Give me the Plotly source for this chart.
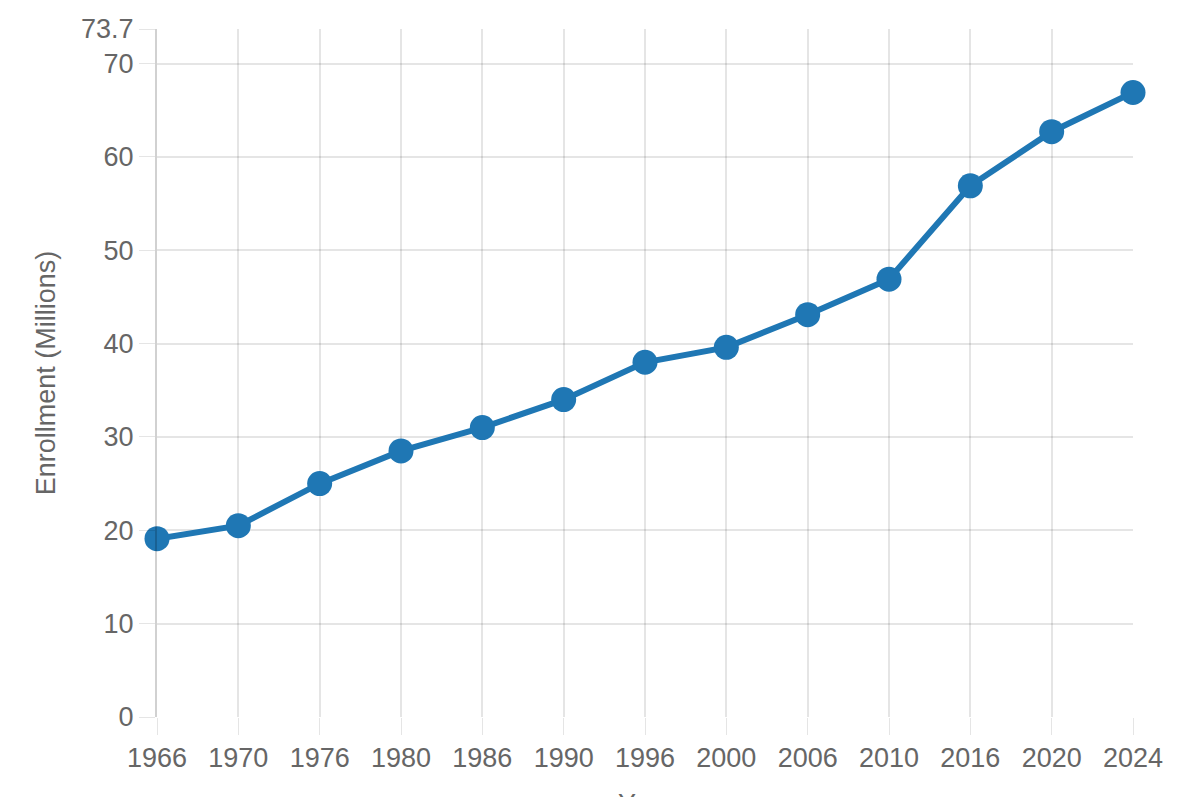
import plotly.graph_objects as go

# enrollment by year
years = ["1966", "1970", "1976", "1980", "1986", "1990", "1996",
         "2000", "2006", "2010", "2016", "2020", "2024"]
enrollment = [19.1, 20.5, 25.0, 28.5, 31.0, 34.0, 38.0,
              39.6, 43.1, 46.9, 56.9, 62.7, 66.9]

y_max = 73.7
y_ticks = [0, 10, 20, 30, 40, 50, 60, 70, y_max]
y_tick_text = ["0", "10", "20", "30", "40", "50", "60", "70", "73.7"]

blue = "#1f77b4"
grey = "#666666"
grid = "rgba(0,0,0,0.1)"

fig = go.Figure()
fig.add_trace(go.Scatter(
    x=years,
    y=enrollment,
    mode="lines+markers",
    line=dict(color=blue, width=6),
    marker=dict(color=blue, size=25),
    cliponaxis=False,
    showlegend=False,
))

fig.update_layout(
    width=1203,
    height=797,
    margin=dict(l=149, r=78, t=21, b=88),
    paper_bgcolor="white",
    plot_bgcolor="white",
    font=dict(family="Liberation Sans, Arial, sans-serif", size=27, color=grey),
)

fig.update_xaxes(
    type="category",
    range=[0, len(years) - 1],
    showgrid=True,
    gridcolor=grid,
    gridwidth=1.5,
    showline=False,
    ticks="outside",
    ticklen=17,
    tickcolor=grid,
    tickfont=dict(size=27, color=grey),
    zeroline=False,
    automargin=False,
)

fig.update_yaxes(
    range=[0, y_max],
    tickvals=y_ticks,
    ticktext=y_tick_text,
    showgrid=True,
    gridcolor=grid,
    gridwidth=1.5,
    showline=True,
    linecolor="rgba(0,0,0,0.18)",
    linewidth=2,
    ticks="outside",
    ticklen=16,
    tickcolor=grid,
    tickfont=dict(size=27, color=grey),
    zeroline=False,
    title=dict(text="Enrollment (Millions)", font=dict(size=27, color=grey), standoff=18),
    automargin=False,
)

# x axis title sits mostly below the visible window
fig.add_annotation(
    text="Year",
    xref="paper", yref="paper",
    x=0.5, y=0,
    xanchor="center", yanchor="top",
    yshift=-70,
    showarrow=False,
    font=dict(size=27, color=grey),
)

fig.write_html("out.html")
